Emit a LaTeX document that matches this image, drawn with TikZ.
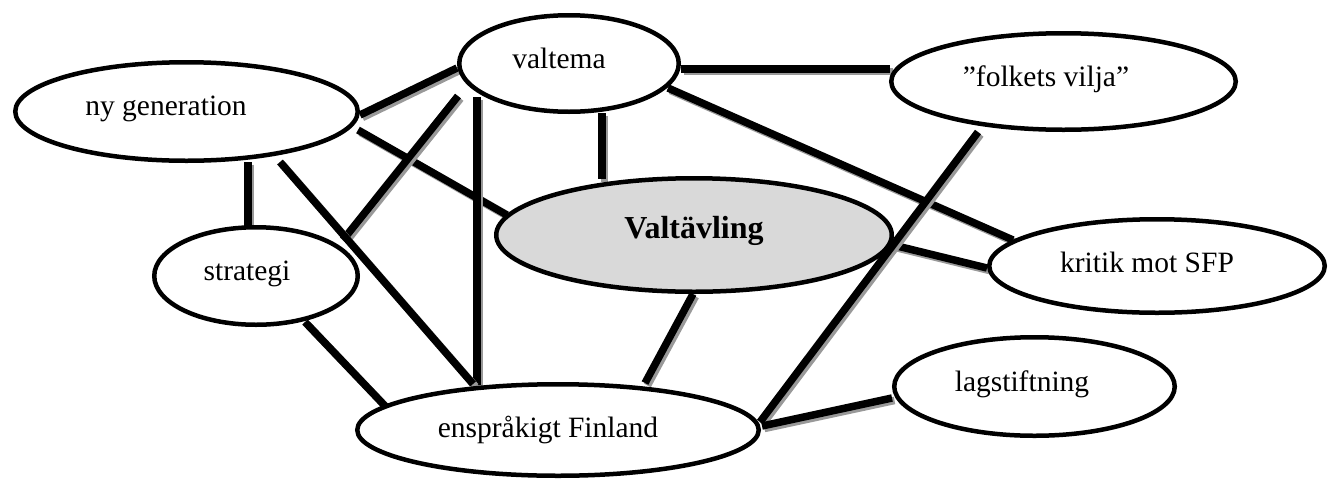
\documentclass[tikz,border=0pt]{standalone}
\usepackage{fontspec}
\setmainfont{Liberation Serif}
\usetikzlibrary{shapes.geometric}
\pgfdeclarelayer{bg}
\pgfsetlayers{bg,main}
\definecolor{fillgray}{HTML}{D9D9D9}
\definecolor{shadowgray}{HTML}{999999}
\tikzset{
  ell/.style={ellipse, draw=black, line width=4.5pt, fill=white, inner sep=0pt},
  lab/.style={anchor=base, inner sep=0pt, font=\fontsize{29.5}{35}\selectfont},
  boldlab/.style={anchor=base, inner sep=0pt, font=\fontsize{32}{38}\selectfont\bfseries},
  conn/.style={line width=7.5pt, draw=black,
    preaction={draw=shadowgray, line width=7.5pt, transform canvas={shift={(2.5pt,-2.5pt)}}}}
}
\begin{document}
\begin{tikzpicture}[x=1pt,y=-1pt]
\useasboundingbox (0,0) rectangle (1328,480);
% ellipses
\node[ell, minimum width=342.5pt, minimum height=98.5pt] (ny) at (186.5,111.5) {};
\node[ell, minimum width=219.5pt, minimum height=96.5pt] (valtema) at (569,63.5) {};
\node[ell, minimum width=344.5pt, minimum height=96.5pt] (folk) at (1063.5,81.5) {};
\node[ell, fill=fillgray, minimum width=395.5pt, minimum height=113.5pt] (valt) at (694,235) {};
\node[ell, minimum width=335.5pt, minimum height=93.5pt] (kritik) at (1157,266) {};
\node[ell, minimum width=203.5pt, minimum height=97.5pt] (strategi) at (256,276) {};
\node[ell, minimum width=401.5pt, minimum height=91.5pt] (ensp) at (558,430) {};
\node[ell, minimum width=280.5pt, minimum height=98.5pt] (lag) at (1034.5,386.5) {};
% texts
\node[lab] (tny) at (166,115) {ny generation};
\node[lab] (tvaltema) at (559,68) {valtema};
\node[lab] (tfolk) at (1046,86) {”folkets vilja”};
\node[boldlab] (tvalt) at (694,238) {Valtävling};
\node[lab] (tkritik) at (1147,272) {kritik mot SFP};
\node[lab] (tstrategi) at (247,280) {strategi};
\node[lab] (tensp) at (548,437) {enspråkigt Finland};
\node[lab] (tlag) at (1022,391) {lagstiftning};
% connectors
\begin{pgfonlayer}{bg}
\draw[conn] ([shift={(173.5,3.5)}]ny.center) -- ([shift={(-112,4.5)}]valtema.center);
\draw[conn] ([shift={(171.5,18.5)}]ny.center) -- ([shift={(-187,-20)}]valt.center);
\draw[conn] ([shift={(-92,33.5)}]valtema.center) -- ([shift={(-81,-45)}]ensp.center);
\draw[conn] ([shift={(-111,32.5)}]valtema.center) -- ([shift={(87,-36)}]strategi.center);
\draw[conn] ([shift={(61.5,50.5)}]ny.center) -- ([shift={(-8,-49)}]strategi.center);
\draw[conn] ([shift={(93.5,50.5)}]ny.center) -- ([shift={(-85,-46)}]ensp.center);
\draw[conn] ([shift={(49,46)}]strategi.center) -- ([shift={(-172,-23)}]ensp.center);
\draw[conn] ([shift={(33,49.5)}]valtema.center) -- ([shift={(-92,-56)}]valt.center);
\draw[conn] ([shift={(112,5.5)}]valtema.center) -- ([shift={(-173.5,-12.5)}]folk.center);
\draw[conn] ([shift={(99,24.5)}]valtema.center) -- ([shift={(-144,-26)}]kritik.center);
\draw[conn] ([shift={(199,10)}]valt.center) -- ([shift={(-170,2)}]kritik.center);
\draw[conn] ([shift={(-85.5,50.5)}]folk.center) -- ([shift={(202,-8)}]ensp.center);
\draw[conn] ([shift={(-142.5,11.5)}]lag.center) -- ([shift={(204,-4)}]ensp.center);
\draw[conn] ([shift={(-1,59)}]valt.center) -- ([shift={(87,-47)}]ensp.center);
\end{pgfonlayer}
\end{tikzpicture}
\end{document}
